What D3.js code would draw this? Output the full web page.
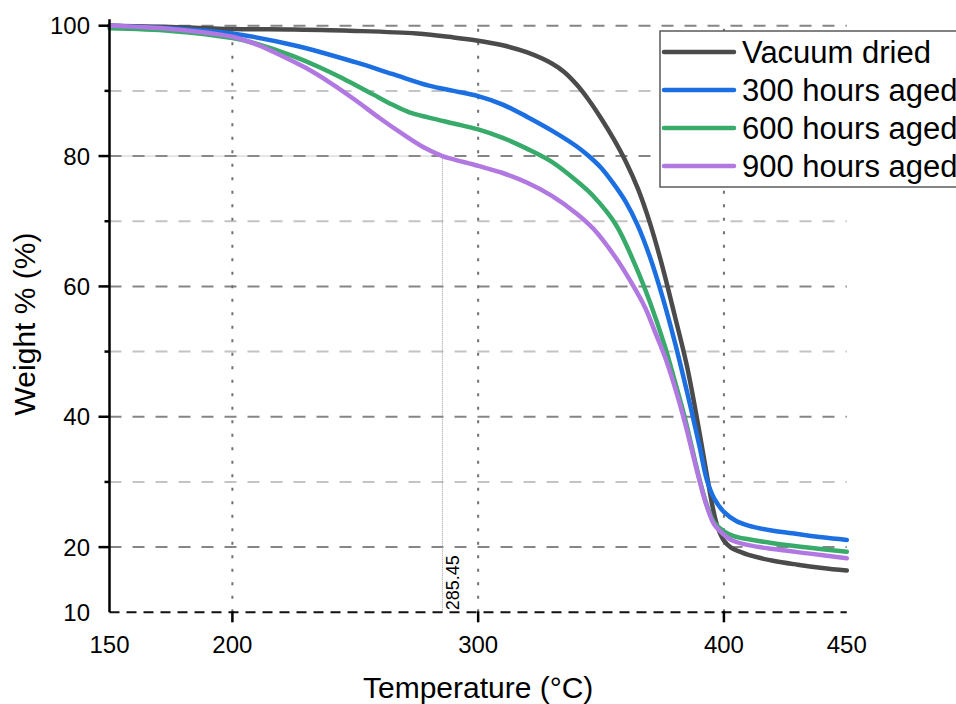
<!DOCTYPE html>
<html lang="en">
<head>
    <meta charset="utf-8">
    <script type="text/javascript" src="https://cdn.jsdelivr.net/npm/d3@7"></script>
    <style>
        body {
            margin: 0;
            background: white;
        }

        text {
            font-family: 'Liberation Sans', Arial, sans-serif;
            fill: black;
        }

        .tick-label {
            font-size: 24px;
        }

        .title {
            font-size: 30px;
        }

        .legend-text {
            font-size: 31px;
        }

        .curve {
            fill: none;
            stroke-width: 4.5;
            stroke-linejoin: round;
            stroke-linecap: round;
        }
    </style>
</head>
<body>
<div id="chart"></div>

<script>

    // series names and colors
    var seriesNames = ["Vacuum dried", "300 hours aged", "600 hours aged", "900 hours aged"];
    var seriesColors = ["#4b4b4b", "#1c6fe0", "#38aa6a", "#b078e0"];

    // temperatures (°C) and weight %
    var tempVacuum = [150, 175, 200, 225, 250, 275, 290, 300, 310, 320, 330, 335, 340, 345, 350, 355, 360, 365, 370, 375, 380, 385, 390, 393, 395.5, 397.5, 400, 403, 406.5, 410, 420, 430, 440, 450];
    var wVacuum = [100, 99.8, 99.5, 99.4, 99.2, 98.8, 98.2, 97.7, 97.0, 95.9, 94.2, 92.9, 91.0, 88.6, 85.8, 82.7, 79.2, 75.0, 69.6, 63.0, 55.5, 47.7, 37.7, 31.2, 26, 23, 21, 19.9, 19.3, 18.8, 17.9, 17.3, 16.8, 16.4];

    var temp300 = [150, 175, 200, 225, 250, 265, 280, 290, 300, 310, 320, 330, 340, 345, 350, 355, 360, 365, 370, 375, 380, 385, 390, 393, 396, 400, 405, 410, 420, 430, 440, 450];
    var w300 = [100, 99.6, 98.8, 97, 94.4, 92.6, 90.8, 90, 89.2, 87.9, 86, 83.9, 81.5, 80.0, 78.2, 75.8, 73.0, 69.3, 64.4, 58.4, 51.5, 43.8, 35.6, 30.4, 27.5, 25.4, 24, 23.3, 22.5, 22, 21.5, 21.1];

    var temp600 = [150, 175, 200, 210, 225, 235, 245, 257, 265, 272, 280, 290, 300, 310, 320, 330, 340, 347, 356, 364, 370, 376, 380, 384, 390, 393, 396, 400, 404, 410, 420, 435, 450];
    var w600 = [99.6, 99.2, 98.1, 97.2, 95.3, 93.7, 91.9, 89.5, 87.9, 86.7, 85.9, 85.0, 84.1, 82.8, 81.1, 79.1, 76.2, 73.8, 69.5, 63.2, 57.5, 50.8, 45.5, 40, 30.5, 26.5, 23.8, 22.4, 21.7, 21.2, 20.6, 19.9, 19.3];

    var temp900 = [150, 175, 200, 210, 220, 230, 240, 250, 260, 270, 278, 285.45, 290, 300, 310, 320, 330, 340, 347, 356, 362, 368, 372, 376, 380, 384, 390, 393, 396, 400, 403, 410, 420, 435, 450];
    var w900 = [100, 99.5, 98.3, 97.1, 95.4, 93.5, 91.2, 88.6, 85.8, 83.2, 81.3, 80, 79.5, 78.5, 77.4, 75.9, 73.9, 71.2, 68.8, 64.4, 60.8, 56.7, 53.0, 49.2, 44.6, 39.3, 30.3, 26.3, 23.5, 21.9, 21.1, 20.3, 19.7, 19.0, 18.3];

    var allTemps = [tempVacuum, temp300, temp600, temp900];
    var allWeights = [wVacuum, w300, w600, w900];

    // ticks
    var xTickLabels = [150, 200, 300, 400, 450];
    var xTickMarks = [200, 300, 400];
    var vGrid = [200, 300, 400];
    var yMajor = [20, 40, 60, 80, 100];
    var yMinor = [30, 50, 70, 90];
    var yTickLabels = [10, 20, 40, 60, 80, 100];

    // marker at 80 %
    var markTemp = 285.45;
    var markWeight = 80;

    var width = 956, height = 704;

    var x = d3.scaleLinear()
        .domain([150, 450])
        .range([109.5, 846.8]);

    var y = d3.scaleLinear()
        .domain([10, 100])
        .range([612.3, 25.7]);

    var svg = d3.select("#chart").append("svg")
        .attr("width", width)
        .attr("height", height);

    // horizontal grid, minor first
    svg.selectAll(".minor-grid")
        .data(yMinor)
        .enter().append("line")
        .attr("x1", x(150)).attr("x2", x(450))
        .attr("y1", function (d) { return y(d); })
        .attr("y2", function (d) { return y(d); })
        .attr("stroke", "#c4c4c4")
        .attr("stroke-width", 2)
        .attr("stroke-dasharray", "12,11");

    svg.selectAll(".major-grid")
        .data(yMajor)
        .enter().append("line")
        .attr("x1", x(150)).attr("x2", x(450))
        .attr("y1", function (d) { return y(d); })
        .attr("y2", function (d) { return y(d); })
        .attr("stroke", "#858585")
        .attr("stroke-width", 2)
        .attr("stroke-dasharray", "12,11");

    // vertical dotted grid
    svg.selectAll(".v-grid")
        .data(vGrid)
        .enter().append("line")
        .attr("x1", function (d) { return x(d); })
        .attr("x2", function (d) { return x(d); })
        .attr("y1", y(10))
        .attr("y2", y(101))
        .attr("stroke", "#707070")
        .attr("stroke-width", 2)
        .attr("stroke-dasharray", "3,10.5");

    // the 285.45 marker lines
    svg.append("line")
        .attr("x1", x(markTemp)).attr("x2", x(markTemp))
        .attr("y1", y(10)).attr("y2", y(markWeight))
        .attr("stroke", "#9a9a9a")
        .attr("stroke-width", 1)
        .attr("stroke-dasharray", "1,1");

    svg.append("line")
        .attr("x1", x(150)).attr("x2", x(markTemp))
        .attr("y1", y(markWeight)).attr("y2", y(markWeight))
        .attr("stroke", "#9a9a9a")
        .attr("stroke-width", 1)
        .attr("stroke-dasharray", "1,1");

    svg.append("text")
        .attr("transform", "translate(" + (x(markTemp) + 17) + "," + (y(10) - 2) + ") rotate(-90)")
        .style("font-size", "18px")
        .text(markTemp.toFixed(2));

    // curves
    var line = d3.line()
        .x(function (d) { return x(d[0]); })
        .y(function (d) { return y(d[1]); })
        .curve(d3.curveCatmullRom.alpha(0.5));

    seriesNames.forEach(function (name, i) {
        var pts = allTemps[i].map(function (t, j) { return [t, allWeights[i][j]]; });
        svg.append("path")
            .datum(pts)
            .attr("class", "curve")
            .attr("stroke", seriesColors[i])
            .attr("d", line);
    });

    // x axis: dashed black line along the bottom
    svg.append("line")
        .attr("x1", x(150)).attr("x2", x(450))
        .attr("y1", y(10)).attr("y2", y(10))
        .attr("stroke", "#111")
        .attr("stroke-width", 2)
        .attr("stroke-dasharray", "10,7");

    svg.selectAll(".x-tick")
        .data(xTickMarks)
        .enter().append("line")
        .attr("x1", function (d) { return x(d); })
        .attr("x2", function (d) { return x(d); })
        .attr("y1", y(10) - 1)
        .attr("y2", y(10) + 10)
        .attr("stroke", "black")
        .attr("stroke-width", 2.5);

    svg.selectAll(".x-label")
        .data(xTickLabels)
        .enter().append("text")
        .attr("class", "tick-label")
        .attr("x", function (d) { return x(d); })
        .attr("y", 652.5)
        .attr("text-anchor", "middle")
        .text(function (d) { return d; });

    // y axis
    svg.append("line")
        .attr("x1", x(150)).attr("x2", x(150))
        .attr("y1", y(10)).attr("y2", y(101))
        .attr("stroke", "black")
        .attr("stroke-width", 2.5);

    svg.selectAll(".y-major-tick")
        .data(yMajor)
        .enter().append("line")
        .attr("x1", x(150) - 11).attr("x2", x(150))
        .attr("y1", function (d) { return y(d); })
        .attr("y2", function (d) { return y(d); })
        .attr("stroke", "black")
        .attr("stroke-width", 2.5);

    svg.selectAll(".y-minor-tick")
        .data(yMinor)
        .enter().append("line")
        .attr("x1", x(150) - 5).attr("x2", x(150))
        .attr("y1", function (d) { return y(d); })
        .attr("y2", function (d) { return y(d); })
        .attr("stroke", "black")
        .attr("stroke-width", 2.5);

    svg.selectAll(".y-label")
        .data(yTickLabels)
        .enter().append("text")
        .attr("class", "tick-label")
        .attr("x", 90)
        .attr("y", function (d) { return y(d) + 8.5; })
        .attr("text-anchor", "end")
        .text(function (d) { return d; });

    // axis titles
    svg.append("text")
        .attr("class", "title")
        .attr("x", (x(150) + x(450)) / 2)
        .attr("y", 698)
        .attr("text-anchor", "middle")
        .text("Temperature (°C)");

    svg.append("text")
        .attr("class", "title")
        .attr("transform", "translate(35," + 324 + ") rotate(-90)")
        .attr("text-anchor", "middle")
        .text("Weight % (%)");

    // legend, runs off the right edge
    var legend = svg.append("g")
        .attr("transform", "translate(660,31)");

    legend.append("rect")
        .attr("width", 320)
        .attr("height", 156)
        .attr("fill", "white")
        .attr("stroke", "#5a5a5a")
        .attr("stroke-width", 1.5);

    seriesNames.forEach(function (name, i) {
        var ly = 21 + i * 38;
        legend.append("line")
            .attr("x1", 4).attr("x2", 74)
            .attr("y1", ly).attr("y2", ly)
            .attr("stroke", seriesColors[i])
            .attr("stroke-width", 4.5)
            .attr("stroke-linecap", "round");
        legend.append("text")
            .attr("class", "legend-text")
            .attr("x", 82)
            .attr("y", ly + 11)
            .text(name);
    });

</script>
</body>
</html>
